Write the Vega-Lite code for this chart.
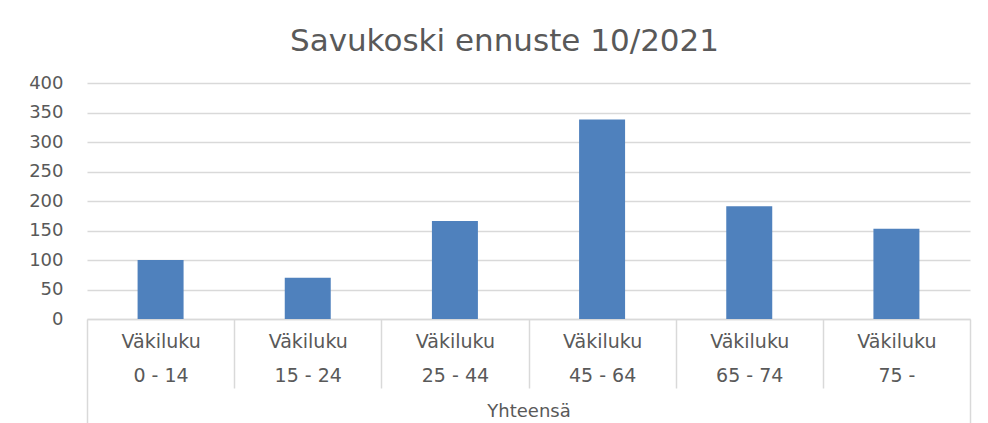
{
  "$schema": "https://vega.github.io/schema/vega-lite/v6.json",
  "width": 883,
  "height": 236,
  "autosize": {"type": "none"},
  "padding": {"left": 87, "top": 83, "right": 18, "bottom": 104},
  "background": "white",
  "title": {
    "text": "Savukoski ennuste 10/2021",
    "font": "DejaVu Sans",
    "fontSize": 31,
    "fontWeight": "normal",
    "color": "#595959",
    "anchor": "middle",
    "baseline": "alphabetic",
    "offset": -8,
    "dx": -24
  },
  "config": {
    "view": {"stroke": null},
    "font": "DejaVu Sans"
  },
  "data": {
    "values": [
      {"ryhma": "0 - 14", "arvo": 100},
      {"ryhma": "15 - 24", "arvo": 70},
      {"ryhma": "25 - 44", "arvo": 166},
      {"ryhma": "45 - 64", "arvo": 338},
      {"ryhma": "65 - 74", "arvo": 191},
      {"ryhma": "75 -", "arvo": 153}
    ]
  },
  "mark": {"type": "bar", "color": "#4F81BD", "width": {"band": 0.3125}},
  "encoding": {
    "x": {
      "field": "ryhma",
      "type": "nominal",
      "sort": null,
      "scale": {"paddingInner": 0, "paddingOuter": 0},
      "axis": {
        "title": "Yhteensä",
        "titleFont": "DejaVu Sans",
        "titleFontSize": 18,
        "titleFontWeight": "normal",
        "titleColor": "#595959",
        "titlePadding": -22,
        "labelAngle": 0,
        "labelExpr": "isValid(datum.value) ? ['Väkiluku', datum.value] : ''",
        "labelFont": "DejaVu Sans",
        "labelFontSize": 19,
        "labelColor": "#595959",
        "labelLineHeight": 34,
        "labelBaseline": "top",
        "labelPadding": {"condition": {"test": "datum.value === '75 -'", "value": -92}, "value": -56},
        "labelOverlap": false,
        "tickBand": "extent",
        "tickSize": {"condition": {"test": "!isValid(datum.value) || datum.value === '75 -'", "value": 105}, "value": 69},
        "tickColor": "#d9d9d9",
        "tickWidth": 1.5,
        "domainColor": "#d9d9d9",
        "domainWidth": 1.5,
        "grid": false
      }
    },
    "y": {
      "field": "arvo",
      "type": "quantitative",
      "scale": {"domain": [0, 400], "nice": false},
      "axis": {
        "title": null,
        "values": [0, 50, 100, 150, 200, 250, 300, 350, 400],
        "labelOverlap": false,
        "grid": true,
        "gridColor": "#d9d9d9",
        "gridWidth": 1.5,
        "domain": false,
        "ticks": false,
        "labelPadding": 24,
        "labelFont": "DejaVu Sans",
        "labelFontSize": 18,
        "labelColor": "#595959"
      }
    }
  }
}
